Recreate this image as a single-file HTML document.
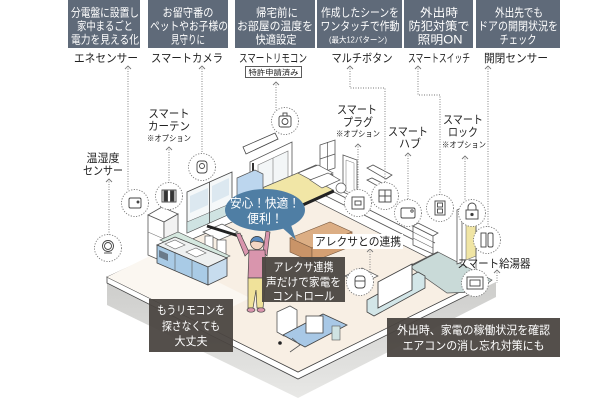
<!DOCTYPE html>
<html><head><meta charset="utf-8"><style>
html,body{margin:0;padding:0;background:#fff;width:600px;height:400px;overflow:hidden}
svg{display:block}
text{font-family:"Liberation Sans","Noto Sans CJK JP",sans-serif;}
</style></head><body>
<svg width="600" height="400" viewBox="0 0 600 400" xmlns="http://www.w3.org/2000/svg">
<defs>
<linearGradient id="gs" x1="0" y1="0" x2="0" y2="1">
<stop offset="0" stop-color="#cdcdcb"/><stop offset="1" stop-color="#e8e8e6"/>
</linearGradient>
</defs>

<!-- ===== header boxes ===== -->
<g fill="#5f6a79">
<rect x="68" y="0" width="72" height="48"/>
<rect x="148" y="0" width="80" height="48"/>
<rect x="235" y="0" width="80" height="48"/>
<rect x="317" y="0" width="85" height="48"/>
<rect x="404" y="0" width="69" height="48"/>
<rect x="476" y="0" width="84" height="48"/>
</g>
<g fill="#fff" font-size="11.5" text-anchor="middle">
<text x="105" y="16.5" textLength="68" lengthAdjust="spacingAndGlyphs">分電盤に設置し</text>
<text x="105" y="30" textLength="56" lengthAdjust="spacingAndGlyphs">家中まるごと</text>
<text x="105" y="43.5" textLength="68" lengthAdjust="spacingAndGlyphs">電力を見える化</text>

<text x="188" y="16.5" textLength="51" lengthAdjust="spacingAndGlyphs">お留守番の</text>
<text x="189" y="30" textLength="78" lengthAdjust="spacingAndGlyphs">ペットやお子様の</text>
<text x="188" y="43.5" textLength="34" lengthAdjust="spacingAndGlyphs">見守りに</text>

<text x="277" y="16.5" textLength="42" lengthAdjust="spacingAndGlyphs">帰宅前に</text>
<text x="275" y="30" textLength="76" lengthAdjust="spacingAndGlyphs">お部屋の温度を</text>
<text x="276" y="43.5" textLength="41" lengthAdjust="spacingAndGlyphs">快適設定</text>

<text x="360" y="16.5" textLength="78" lengthAdjust="spacingAndGlyphs">作成したシーンを</text>
<text x="360" y="30" textLength="79" lengthAdjust="spacingAndGlyphs">ワンタッチで作動</text>
<text x="358" y="42.5" font-size="8" textLength="58" lengthAdjust="spacingAndGlyphs">(最大12パターン)</text>

<text x="439" y="16.5" textLength="38" lengthAdjust="spacingAndGlyphs">外出時</text>
<text x="439" y="30" textLength="61" lengthAdjust="spacingAndGlyphs">防犯対策で</text>
<text x="440" y="43.5" textLength="45" lengthAdjust="spacingAndGlyphs">照明ON</text>

<text x="519" y="16.5" textLength="48" lengthAdjust="spacingAndGlyphs">外出先でも</text>
<text x="518" y="30" textLength="80" lengthAdjust="spacingAndGlyphs">ドアの開閉状況を</text>
<text x="518" y="43.5" textLength="37" lengthAdjust="spacingAndGlyphs">チェック</text>
</g>

<!-- header labels -->
<g fill="#222" font-size="11.5" text-anchor="middle">
<text x="106" y="62" textLength="64" lengthAdjust="spacingAndGlyphs">エネセンサー</text>
<text x="187" y="62" textLength="72" lengthAdjust="spacingAndGlyphs">スマートカメラ</text>
<text x="273" y="62" textLength="68" lengthAdjust="spacingAndGlyphs">スマートリモコン</text>
<text x="362" y="62" textLength="61" lengthAdjust="spacingAndGlyphs">マルチボタン</text>
<text x="439" y="62" textLength="62" lengthAdjust="spacingAndGlyphs">スマートスイッチ</text>
<text x="516" y="62" textLength="64" lengthAdjust="spacingAndGlyphs">開閉センサー</text>
</g>
<rect x="245.5" y="66.5" width="56" height="11" fill="#fff" stroke="#333" stroke-width="0.8"/>
<text x="273.5" y="75" font-size="7.5" text-anchor="middle" fill="#222" textLength="50" lengthAdjust="spacingAndGlyphs">特許申請済み</text>

<!-- ===== floor slab ===== -->
<polygon points="107,280 107,305 298,398 496,297 496,282 298,376" fill="url(#gs)"/>
<polygon points="107,277 298,372 478,283 478,290 298,379 107,283" fill="#fff" stroke="#444" stroke-width="0.8"/>
<polygon points="107,277 298,372 478,283 300,193 155,255" fill="#f8efe4" stroke="#444" stroke-width="0.7"/>
<polygon points="107,277 200,323 250,298 158,252" fill="#fbf7f1"/>

<!-- right walls / entrance -->
<polygon points="410,267 438,252 492,280 476,292 447,293" fill="#c9dad8" stroke="#555" stroke-width="0.7"/>
<line x1="408" y1="267" x2="438" y2="252" stroke="#555" stroke-width="1.5"/>
<polyline points="330,190 435,243" fill="none" stroke="#555" stroke-width="0.8"/>
<polyline points="326,196 432,249" fill="none" stroke="#555" stroke-width="0.8"/>
<!-- shoe cabinet -->
<polygon points="413,226 433,236 433,254 413,245" fill="#fff" stroke="#555" stroke-width="0.8"/>
<polygon points="413,226 418,223 438,233 433,236" fill="#fff" stroke="#555" stroke-width="0.8"/>
<line x1="413" y1="232" x2="433" y2="242" stroke="#666" stroke-width="0.6"/>
<line x1="413" y1="238" x2="433" y2="248" stroke="#666" stroke-width="0.6"/>
<!-- door -->
<polygon points="457,210 462,208 462,262 457,264" fill="#fff" stroke="#555" stroke-width="0.8"/>
<polygon points="466,224 476,220 476,256 466,260" fill="#f0e5a4" stroke="#777" stroke-width="0.6"/>
<line x1="476" y1="215" x2="476" y2="275" stroke="#555" stroke-width="0.8"/>

<!-- upper right room parts -->
<polygon points="343,155 357,160 357,198 343,192" fill="#fff" stroke="#555" stroke-width="0.8"/>
<polygon points="346,160 354,163 354,195 346,191" fill="none" stroke="#777" stroke-width="0.5"/>
<polygon points="320,145 335,140 335,168 320,173" fill="#fff" stroke="#555" stroke-width="0.8"/>
<line x1="327.5" y1="142" x2="327.5" y2="171" stroke="#555" stroke-width="0.7"/>
<line x1="320" y1="159" x2="335" y2="154" stroke="#555" stroke-width="0.7"/>
<polygon points="367,168 373,165 392,175 386,179" fill="#fff" stroke="#555" stroke-width="0.8"/>
<polygon points="367,180 372,178 388,186 383,189" fill="#fff" stroke="#555" stroke-width="0.8"/>
<polygon points="300,172 316,165 333,175 317,182" fill="#fff" stroke="#555" stroke-width="0.8"/>

<!-- back wall with AC -->
<polygon points="250,162 292,142 292,188 250,208" fill="#fff" stroke="#555" stroke-width="0.8"/>
<line x1="253" y1="163" x2="253" y2="207" stroke="#333" stroke-width="2"/>
<polygon points="258,165 288,151 288,186 258,200" fill="#f3f6f7" stroke="#777" stroke-width="0.6"/>
<line x1="273" y1="158" x2="273" y2="193" stroke="#777" stroke-width="0.6"/>
<polygon points="243,147 275,133 278,139 246,154" fill="#fff" stroke="#444" stroke-width="0.8"/>

<!-- bed -->
<polygon points="262,188 300,172 333,190 296,207" fill="#f1e6a6" stroke="#555" stroke-width="0.7"/>
<polygon points="298,173 318,165 333,173 313,181" fill="#fff" stroke="#555" stroke-width="0.7"/>
<polygon points="310,180 328,173 340,180 322,188" fill="#fff" stroke="#555" stroke-width="0.7"/>
<line x1="296" y1="208" x2="334" y2="191" stroke="#222" stroke-width="3"/>
<circle cx="341" cy="188" r="5" fill="#fff" stroke="#555" stroke-width="0.7"/>

<!-- shelves light blue -->
<polygon points="237,178 255,170 263,174 263,195 245,203 237,199" fill="#bcd6ee" stroke="#555" stroke-width="0.7"/>

<!-- glass wall -->
<polygon points="187,192 232,172 232,213 187,233" fill="#f5f8f9" stroke="#444" stroke-width="0.8"/>
<polygon points="190,196 208,188 208,205 190,213" fill="#dce8f0"/>
<polygon points="212,186 229,178 229,195 212,203" fill="#dce8f0"/>
<polygon points="187,222 232,203 232,213 187,233" fill="#cfe3e2" stroke="#555" stroke-width="0.5"/>
<line x1="209.5" y1="182" x2="209.5" y2="223" stroke="#444" stroke-width="0.8"/>

<!-- fridge -->
<polygon points="148,215 162,207 178,214 164,222" fill="#fff" stroke="#555" stroke-width="0.8"/>
<polygon points="148,215 164,222 164,262 148,255" fill="#fff" stroke="#555" stroke-width="0.8"/>
<polygon points="164,222 178,214 178,254 164,262" fill="#f2f2f2" stroke="#555" stroke-width="0.8"/>
<line x1="148" y1="232" x2="164" y2="239" stroke="#777" stroke-width="0.6"/>

<!-- table chairs under bubble -->
<polygon points="203,232 222,224 238,232 219,240" fill="#fff" stroke="#555" stroke-width="0.7"/>
<rect x="205" y="236" width="8" height="14" fill="#fff" stroke="#555" stroke-width="0.7"/>
<rect x="217" y="240" width="9" height="14" fill="#fff" stroke="#555" stroke-width="0.7"/>
<line x1="207" y1="226" x2="242" y2="237" stroke="#222" stroke-width="3"/>

<!-- kitchen counter -->
<polygon points="160,240 178,232 230,256 212,264" fill="#d5e8df" stroke="#555" stroke-width="0.6"/>
<polygon points="157,245 175,237 227,258 208,267" fill="#eef0f0" stroke="#444" stroke-width="0.8"/>
<polygon points="157,245 208,267 208,285 157,263" fill="#a9cbe6" stroke="#444" stroke-width="0.8"/>
<polygon points="208,267 227,258 227,276 208,285" fill="#c7dcee" stroke="#444" stroke-width="0.8"/>
<polygon points="165,244 175,240 185,245 175,249" fill="#fff" stroke="#666" stroke-width="0.6"/>
<polygon points="186,252 196,248 206,253 196,257" fill="#fff" stroke="#666" stroke-width="0.6"/>
<polygon points="159,250 168,254 168,261 159,257" fill="#6a7a8a"/>
<line x1="175" y1="252" x2="175" y2="271" stroke="#555" stroke-width="0.6"/>
<line x1="192" y1="260" x2="192" y2="278" stroke="#555" stroke-width="0.6"/>

<!-- sofa -->
<polygon points="290,238 330,222 352,232 312,248" fill="#dcae84" stroke="#7a5a40" stroke-width="0.6"/>
<polygon points="290,238 312,248 312,262 290,252" fill="#c99468" stroke="#7a5a40" stroke-width="0.6"/>
<polygon points="312,248 352,232 352,246 312,262" fill="#d5a073" stroke="#7a5a40" stroke-width="0.6"/>

<!-- echo table -->
<polygon points="345,276 362,268 378,276 361,284" fill="#fff" stroke="#555" stroke-width="0.7"/>

<!-- TV -->
<polygon points="367,300 418,272 425,276 425,288 374,316 367,312" fill="#d3e6e8" stroke="#444" stroke-width="0.8"/>
<polygon points="378,282 412,264 412,290 378,308" fill="#fff" stroke="#444" stroke-width="0.9"/>

<!-- desk + chair -->
<polygon points="277,312 290,306 297,310 297,330 284,336 277,332" fill="#fff" stroke="#555" stroke-width="0.8"/>
<polygon points="283,335 323,314 347,325 305,347" fill="#a8c8e6" stroke="#444" stroke-width="0.8"/>
<rect x="306" y="316" width="17" height="17" fill="#fff" stroke="#444" stroke-width="0.8"/>
<polyline points="290,352 300,345 292,338" fill="none" stroke="#555" stroke-width="0.8"/>
<rect x="332" y="326" width="8" height="14" fill="#cfe3e2" stroke="#555" stroke-width="0.6"/>
<circle cx="280" cy="343" r="1.8" fill="#222"/>

<!-- person -->
<g stroke="#444" stroke-width="0.7">
<polygon points="249,252 240,233 236,234 245,256" fill="#d995ad"/>
<polygon points="263,252 266,231 270,232 267,256" fill="#d995ad"/>
<polygon points="249,250 265,250 266,278 248,278" fill="#d995ad"/>
<polygon points="248,278 266,278 263,308 257,308 256,290 253,308 248,308" fill="#f0e29a"/>
<ellipse cx="251" cy="310" rx="4" ry="2.2" fill="#d995ad"/>
<ellipse cx="261" cy="310" rx="4" ry="2.2" fill="#d995ad"/>
<circle cx="257" cy="243" r="6.5" fill="#f3d6c4"/>
<path d="M250.5,243 a6.5,6.5 0 0 1 13,0 l-3,-1 -7,-1z" fill="#5b8cc0"/>
</g>

<!-- bubble -->
<polygon points="278,224 296,240 290,222" fill="#4f7ea4"/>
<ellipse cx="265" cy="210" rx="40" ry="21" fill="#4f7ea4"/>
<g fill="#fff" font-size="12.5" text-anchor="middle">
<text x="265" y="207.5" textLength="70" lengthAdjust="spacingAndGlyphs">安心！快適！</text>
<text x="265" y="223" textLength="36" lengthAdjust="spacingAndGlyphs">便利！</text>
</g>

<!-- ===== dotted connectors ===== -->
<g fill="none" stroke="#777" stroke-width="0.9" stroke-dasharray="1 1.5">
<line x1="128" y1="66" x2="128" y2="191"/>
<line x1="202" y1="66" x2="202" y2="154"/>
<line x1="276" y1="82" x2="276" y2="110"/>
<polyline points="350,66 350,88 385,88 385,182"/>
<polyline points="418,66 418,95 440,95 440,195"/>
<line x1="488" y1="66" x2="488" y2="227"/>
<line x1="169" y1="147" x2="169" y2="183"/>
<line x1="109" y1="179" x2="109" y2="235"/>
<line x1="358" y1="144" x2="358" y2="190"/>
<line x1="408" y1="153" x2="408" y2="200"/>
<line x1="465" y1="156" x2="465" y2="201"/>
<line x1="370" y1="249" x2="370" y2="272"/>
<line x1="497" y1="270" x2="497" y2="283"/>
</g>
<g fill="none" stroke="#777" stroke-width="0.9">
<polyline points="125,69 128,66 131,69"/>
<polyline points="199,69 202,66 205,69"/>
<polyline points="273,85 276,82 279,85"/>
<polyline points="347,69 350,66 353,69"/>
<polyline points="415,69 418,66 421,69"/>
<polyline points="485,69 488,66 491,69"/>
<polyline points="166,150 169,147 172,150"/>
<polyline points="106,182 109,179 112,182"/>
<polyline points="355,147 358,144 361,147"/>
<polyline points="405,156 408,153 411,156"/>
<polyline points="462,159 465,156 468,159"/>
<polyline points="367,252 370,249 373,252"/>
<polyline points="494,273 497,270 500,273"/>
</g>

<!-- circles -->
<g fill="#fff" stroke="#777" stroke-width="0.9" stroke-dasharray="1.2 1.5">
<circle cx="135" cy="203" r="13.5"/>
<circle cx="202" cy="167" r="13.5"/>
<circle cx="285" cy="121" r="13.5"/>
<circle cx="169" cy="196" r="13.5"/>
<circle cx="108" cy="248" r="13.5"/>
<circle cx="358" cy="203" r="13.5"/>
<circle cx="385" cy="196" r="13.5"/>
<circle cx="408" cy="213" r="13.5"/>
<circle cx="440" cy="208" r="13.5"/>
<circle cx="472" cy="213" r="13.5"/>
<circle cx="487" cy="240" r="13.5"/>
<circle cx="475" cy="283" r="13.5"/>
<circle cx="360" cy="282" r="13.5"/>
</g>
<!-- icons -->
<g fill="none" stroke="#444" stroke-width="0.9">
<rect x="129" y="198" width="12" height="10" rx="1.5"/>
<circle cx="138" cy="202" r="1" fill="#444"/>
<rect x="197" y="161" width="10" height="12" rx="3"/>
<circle cx="202" cy="166" r="2.5"/>
<rect x="279" y="116" width="12" height="11" rx="2"/>
<circle cx="285" cy="121.5" r="3"/>
<rect x="283" y="113" width="4" height="3"/>
<rect x="162" y="190" width="14" height="12"/>
<rect x="164" y="191" width="3.5" height="10" fill="#333"/>
<rect x="170.5" y="191" width="3.5" height="10" fill="#333"/>
<circle cx="108" cy="246" r="5.5"/>
<circle cx="108" cy="246" r="3.5"/>
<line x1="104" y1="253" x2="112" y2="253"/>
<rect x="352" y="197" width="12" height="12"/>
<rect x="355" y="201" width="6" height="4"/>
<rect x="379" y="190" width="12" height="12"/>
<line x1="385" y1="190" x2="385" y2="202"/>
<line x1="379" y1="196" x2="391" y2="196"/>
<rect x="401" y="208" width="14" height="10" rx="1.5"/>
<circle cx="412" cy="211" r="1.2"/>
<rect x="435" y="201" width="10" height="14"/>
<rect x="437.5" y="203" width="5" height="4"/>
<rect x="437.5" y="209" width="5" height="4"/>
<path d="M468,210 v-3 a4,4 0 0 1 8,0 v3"/>
<rect x="466" y="210" width="12" height="9"/>
<circle cx="472" cy="214.5" r="1.2" fill="#333"/>
<rect x="481" y="233" width="5" height="14"/>
<rect x="488" y="233" width="5" height="14" rx="1.5"/>
<rect x="467" y="277" width="16" height="12"/>
<rect x="470" y="280" width="10" height="6"/>
<rect x="355" y="276" width="10" height="12" rx="3"/>
<line x1="355" y1="281" x2="365" y2="281"/>
</g>

<!-- ===== floor labels ===== -->
<g fill="#222" font-size="11.5" text-anchor="middle">
<text x="169" y="117.5" textLength="41" lengthAdjust="spacingAndGlyphs">スマート</text>
<text x="169" y="130" textLength="42" lengthAdjust="spacingAndGlyphs">カーテン</text>
<text x="169" y="141" font-size="8" textLength="44" lengthAdjust="spacingAndGlyphs">※オプション</text>
<text x="103" y="162" textLength="33" lengthAdjust="spacingAndGlyphs">温湿度</text>
<text x="103" y="174.5" textLength="40" lengthAdjust="spacingAndGlyphs">センサー</text>
<text x="357" y="113.5" textLength="40" lengthAdjust="spacingAndGlyphs">スマート</text>
<text x="358" y="126" textLength="30" lengthAdjust="spacingAndGlyphs">プラグ</text>
<text x="358" y="136.5" font-size="8" textLength="44" lengthAdjust="spacingAndGlyphs">※オプション</text>
<text x="408" y="135.5" textLength="40" lengthAdjust="spacingAndGlyphs">スマート</text>
<text x="410" y="147.5" textLength="22" lengthAdjust="spacingAndGlyphs">ハブ</text>
<text x="463" y="123.5" textLength="40" lengthAdjust="spacingAndGlyphs">スマート</text>
<text x="463" y="136" textLength="30" lengthAdjust="spacingAndGlyphs">ロック</text>
<text x="464" y="147.5" font-size="8" textLength="44" lengthAdjust="spacingAndGlyphs">※オプション</text>
</g>
<text x="494" y="267.5" fill="#222" font-size="11.5" text-anchor="middle" textLength="73" lengthAdjust="spacingAndGlyphs">スマート給湯器</text>
<rect x="313" y="234" width="90" height="15" fill="#fff"/>
<text x="358" y="245.5" fill="#222" font-size="11.5" text-anchor="middle" textLength="86" lengthAdjust="spacingAndGlyphs">アレクサとの連携</text>

<!-- ===== dark boxes ===== -->
<g fill="#4b4641" opacity="0.95">
<rect x="262" y="257" width="83" height="45"/>
<rect x="149" y="299" width="84" height="53"/>
<rect x="387" y="318" width="173" height="39"/>
</g>
<g fill="#fff" font-size="11.5" text-anchor="middle">
<text x="303.5" y="271" textLength="60" lengthAdjust="spacingAndGlyphs">アレクサ連携</text>
<text x="303.5" y="286" textLength="75" lengthAdjust="spacingAndGlyphs">声だけで家電を</text>
<text x="303.5" y="300" textLength="62" lengthAdjust="spacingAndGlyphs">コントロール</text>
<text x="191" y="314" textLength="68" lengthAdjust="spacingAndGlyphs">もうリモコンを</text>
<text x="191" y="330" textLength="58" lengthAdjust="spacingAndGlyphs">探さなくても</text>
<text x="191" y="345" textLength="33" lengthAdjust="spacingAndGlyphs">大丈夫</text>
<text x="473.5" y="334" textLength="153" lengthAdjust="spacingAndGlyphs">外出時、家電の稼働状況を確認</text>
<text x="473.5" y="349.5" textLength="142" lengthAdjust="spacingAndGlyphs">エアコンの消し忘れ対策にも</text>
</g>
</svg>
</body></html>
